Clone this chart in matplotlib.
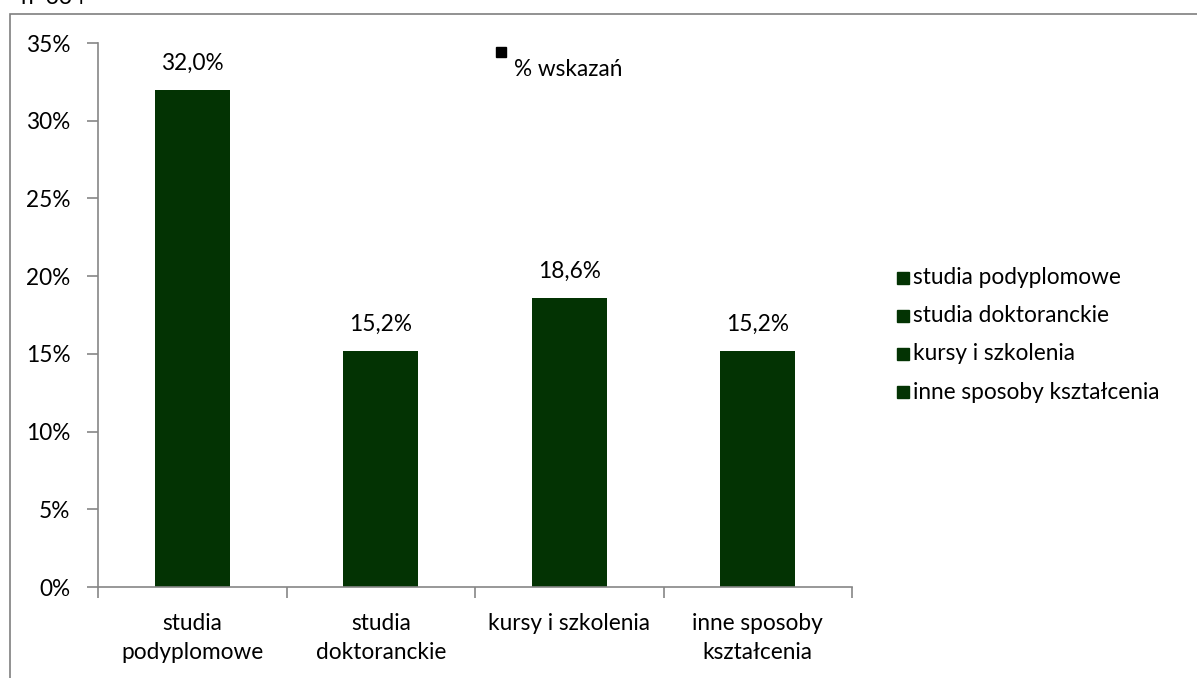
import matplotlib
matplotlib.use("Agg")
import matplotlib.pyplot as plt
from matplotlib.patches import Rectangle
from matplotlib.ticker import FuncFormatter

categories = ["studia\npodyplomowe", "studia\ndoktoranckie", "kursy i szkolenia", "inne sposoby\nkształcenia"]
legend_labels = ["studia podyplomowe", "studia doktoranckie", "kursy i szkolenia", "inne sposoby kształcenia"]
values = [32.0, 15.2, 18.6, 15.2]
series_name = "% wskazań"
yticks = [0, 5, 10, 15, 20, 25, 30, 35]

plt.rcParams['font.family'] = ['Lato', 'DejaVu Sans']
BAR = '#033303'
AX = '#868686'
FS = 16.3

fig = plt.figure(figsize=(11.97, 6.78), dpi=100)

# outer chart frame
fig.patches.append(Rectangle((10 / 1197, -0.05), 1.2, 1 - 14 / 678 + 0.05,
                             transform=fig.transFigure, fill=False,
                             edgecolor='#7f7f7f', linewidth=1.2))
fig.text(20 / 1197, 1 + 3 / 678, "n=334", fontsize=FS, va='center', ha='left')

ax = fig.add_axes([98 / 1197, 1 - 587 / 678, (852 - 98) / 1197, (587 - 43) / 678])
x = list(range(len(values)))
ax.bar(x, values, width=0.4, color=BAR, zorder=2)
for xi, v in zip(x, values):
    ax.text(xi, v + 1.7, f"{v:.1f}%".replace('.', ','), ha='center', va='center', fontsize=FS)

ax.set_xlim(-0.5, len(values) - 0.5)
ax.set_ylim(0, 35)
ax.set_yticks(yticks)
ax.yaxis.set_major_formatter(FuncFormatter(lambda v, p: f"{v:.0f}%"))
ax.set_xticks(x)
ax.set_xticklabels(categories, fontsize=FS, linespacing=1.45)
ax.set_xticks([i - 0.5 for i in range(len(values) + 1)], minor=True)
ax.tick_params(axis='x', which='major', length=0, pad=19)
ax.tick_params(axis='x', which='minor', length=8, direction='out', color=AX, width=1.2)
ax.tick_params(axis='y', length=8, direction='out', color=AX, width=1.2, labelsize=FS, pad=12)
for s in ['top', 'right']:
    ax.spines[s].set_visible(False)
for s in ['left', 'bottom']:
    ax.spines[s].set_color(AX)
    ax.spines[s].set_linewidth(1.2)

# series key
fig.patches.append(Rectangle((496 / 1197, 1 - 57 / 678), 10 / 1197, 10 / 678,
                             transform=fig.transFigure, color='black'))
fig.text(514 / 1197, 1 - 69 / 678, series_name, fontsize=FS, va='center', ha='left')

# category legend
for i, lab in enumerate(legend_labels):
    yc = 278 + 38 * i
    fig.patches.append(Rectangle((897 / 1197, 1 - (yc + 6) / 678), 12 / 1197, 12 / 678,
                                 transform=fig.transFigure, color=BAR))
    fig.text(913 / 1197, 1 - yc / 678, lab, fontsize=FS, va='center', ha='left')

fig.savefig("out.png", dpi=100)
